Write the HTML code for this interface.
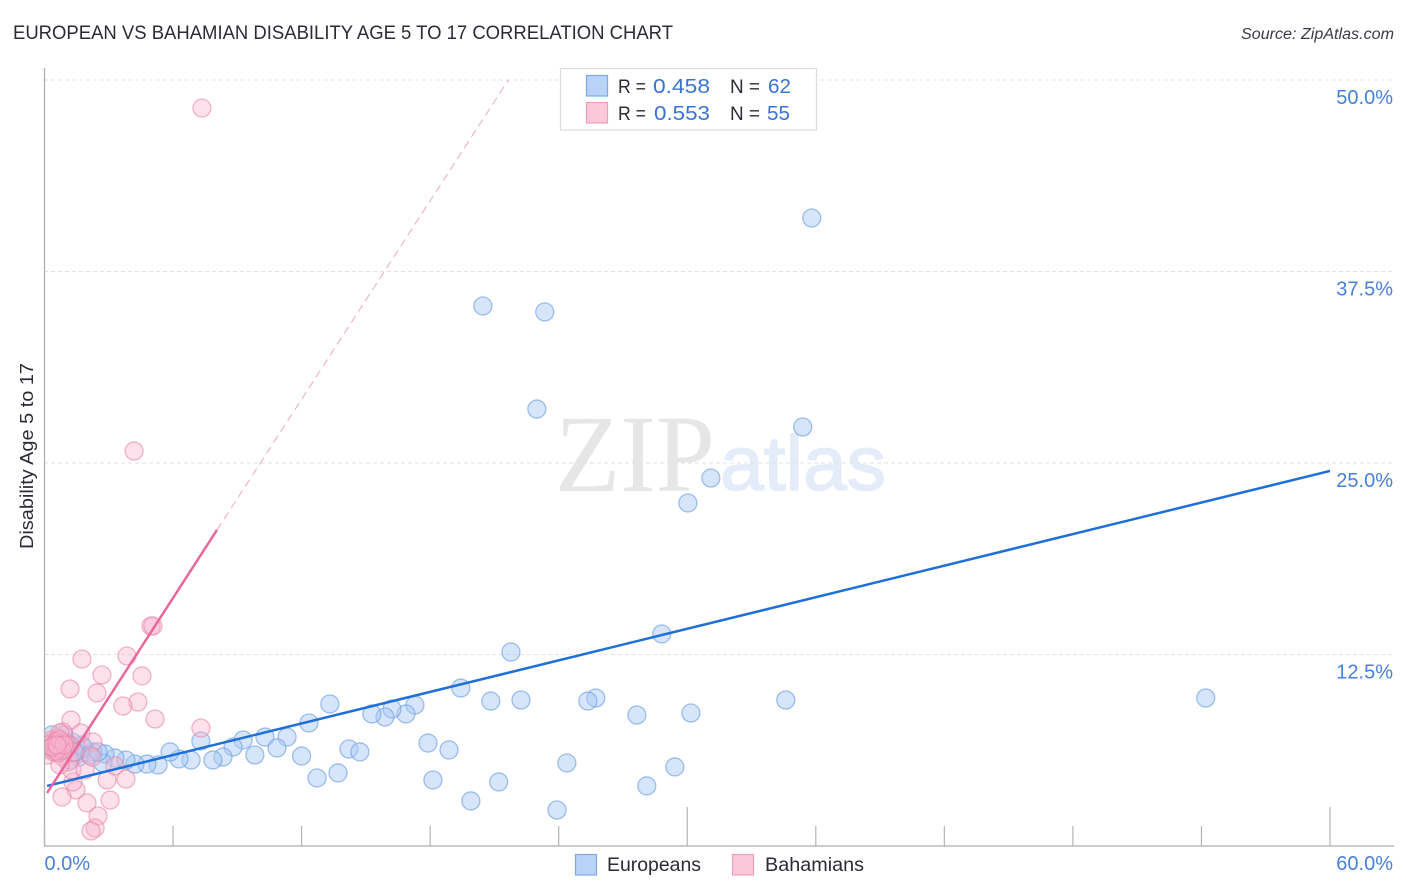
<!DOCTYPE html>
<html lang="en">
<head>
<meta charset="utf-8">
<title>European vs Bahamian Disability Age 5 to 17 Correlation Chart</title>
<style>
html,body{margin:0;padding:0;background:#fff;}
svg{display:block;font-family:"Liberation Sans",sans-serif;}
</style>
</head>
<body>
<svg id="chart" xmlns="http://www.w3.org/2000/svg" width="1406" height="892" viewBox="0 0 1406 892">
  <defs>
    <clipPath id="plot-clip"><rect x="45" y="60" width="1350" height="786"/></clipPath>
  </defs>
  <text x="13" y="39" font-size="19" fill="#2b2b33" textLength="660" lengthAdjust="spacingAndGlyphs">EUROPEAN VS BAHAMIAN DISABILITY AGE 5 TO 17 CORRELATION CHART</text>
  <text x="1394" y="39" font-size="15.5" font-style="italic" fill="#3a3a42" text-anchor="end" textLength="153" lengthAdjust="spacingAndGlyphs">Source: ZipAtlas.com</text>
  <g>
    <text x="555" y="491" font-family="'Liberation Serif',serif" font-size="110" fill="#e6e6e6" textLength="160" lengthAdjust="spacingAndGlyphs">ZIP</text>
    <text x="720" y="490" font-size="77" fill="#e4ecf9" stroke="#e4ecf9" stroke-width="1.5" textLength="166" lengthAdjust="spacingAndGlyphs">atlas</text>
  </g>
  <g id="grid"></g>
  <g clip-path="url(#plot-clip)">
    <g id="points-eu"></g>
    <g id="points-ba"></g>
  </g>
  <g id="trends"></g>
  <g id="axes"></g>
  <text transform="translate(33 456) rotate(-90)" font-size="18.5" fill="#2b2b33" text-anchor="middle" textLength="186" lengthAdjust="spacingAndGlyphs">Disability Age 5 to 17</text>
  <g>
    <rect x="560.5" y="68.5" width="256" height="61.5" fill="#fff" stroke="#dcdcdc" stroke-width="1.2"/>
    <rect x="586.5" y="75.5" width="21" height="20.5" fill="#b9d3f8" stroke="#7fa9e6" stroke-width="1.2"/>
    <rect x="586.5" y="102.5" width="21" height="20.5" fill="#fbc7d9" stroke="#f0a0bc" stroke-width="1.2"/>
    <text x="618" y="93" font-size="19" fill="#2b2b33" textLength="28" lengthAdjust="spacingAndGlyphs">R =</text>
    <text x="653" y="93" font-size="20.5" fill="#3b74d0" textLength="57" lengthAdjust="spacingAndGlyphs">0.458</text>
    <text x="730" y="93" font-size="19" fill="#2b2b33" textLength="30" lengthAdjust="spacingAndGlyphs">N =</text>
    <text x="768" y="93" font-size="20.5" fill="#3b74d0" textLength="23" lengthAdjust="spacingAndGlyphs">62</text>
    <text x="618" y="120" font-size="19" fill="#2b2b33" textLength="28" lengthAdjust="spacingAndGlyphs">R =</text>
    <text x="654" y="120" font-size="20.5" fill="#3b74d0" textLength="56" lengthAdjust="spacingAndGlyphs">0.553</text>
    <text x="730" y="120" font-size="19" fill="#2b2b33" textLength="30" lengthAdjust="spacingAndGlyphs">N =</text>
    <text x="767" y="120" font-size="20.5" fill="#3b74d0" textLength="23" lengthAdjust="spacingAndGlyphs">55</text>
  </g>
  <g>
    <rect x="575.5" y="854.5" width="21" height="20.5" fill="#b9d3f8" stroke="#7fa9e6" stroke-width="1.2"/>
    <text x="607" y="871" font-size="19.5" fill="#2b2b33" textLength="94" lengthAdjust="spacingAndGlyphs">Europeans</text>
    <rect x="732.5" y="854.5" width="21" height="20.5" fill="#fbc7d9" stroke="#f0a0bc" stroke-width="1.2"/>
    <text x="765" y="871" font-size="19.5" fill="#2b2b33" textLength="99" lengthAdjust="spacingAndGlyphs">Bahamians</text>
  </g>
</svg>
<script>
const yTickValues = [12.5, 25, 37.5, 50];
const yTickLabels = ["12.5%", "25.0%", "37.5%", "50.0%"];
const xTickValues = [0, 6, 12, 18, 24, 30, 36, 42, 48, 54, 60];
const xMajorTicks = [30, 60];
const xEndValues = [0, 60];
const xEndLabels = ["0.0%", "60.0%"];

const europeansX = [35.81,20.46,23.35,22.98,35.39,31.10,30.03,28.81,21.77,54.2,34.6,25.73,25.36,22.24,20.83,19.43,17.29,16.87,16.22,15.89,15.28,13.32,12.34,27.65,30.17,17.9,18.88,14.21,14.72,11.32,10.29,9.27,8.8,7.3,10.85,12,9.82,8.33,7.86,6.84,6.28,5.86,5.3,4.78,4.22,3.8,3.29,2.82,2.73,2.26,1.75,1.61,1.28,0.91,0.35,0.72,24.38,29.42,28.11,23.92,19.9,21.2,18.13,13.7,12.72,0.54,0.82,1.1,1.47,1.84,2.12,2.5,0.35,1.19];
const europeansY = [40.99,35.25,34.86,28.52,27.35,24.02,22.39,13.84,12.66,9.66,9.53,9.66,9.46,9.53,9.46,10.31,9.2,8.62,8.94,8.42,8.62,9.27,8.03,8.55,8.68,6.72,6.27,6.33,6.14,7.11,7.11,6.92,6.46,6.85,6.4,5.87,5.94,5.81,5.61,5.61,5.68,6.14,5.29,5.35,5.35,5.61,5.74,6.0,5.42,6.14,6.59,5.81,6.79,7.25,7.25,6.27,5.42,5.16,3.92,2.35,2.94,4.18,4.31,4.77,4.44,6.79,6.46,6.59,6.14,6.4,5.94,6.14,6.4,5.61];

const bahamiansX = [7.35,4.18,4.97,5.06,1.75,3.85,2.68,4.55,1.19,2.45,4.36,3.66,5.16,1.24,7.3,1.70,2.26,0.86,1.47,0.82,1.98,2.5,3.06,2.92,3.8,1.33,2.36,2.17,0.49,0.26,0.63,0.82,0.16,0.44,1.0,0.72,1.19,0.35,0.58,0.86,1.1,1.38,1.28,1.89,2.22,0.72,3.29,0.3,0.55,0.95,0.2,0.65,0.44,0.54,0.63,0.72,0.82,0.54,0.35,0.72,0.91,0.58];
const bahamiansY = [48.17,25.78,14.36,14.36,12.2,12.4,11.16,11.1,10.25,9.99,9.4,9.14,8.29,8.22,7.7,7.38,6.79,7.44,3.66,3.2,2.81,1.96,3.0,4.31,4.37,4.18,1.17,0.98,6.59,6.27,7.05,6.79,5.94,6.14,6.4,7.38,6.59,6.79,6.27,5.81,5.48,6.14,4.96,4.96,5.81,5.29,5.22,6.9,6.5,6.7,6.6,6.1,6.59,6.79,6.4,6.59,6.27,6.2,6.46,6.92,6.59,6.59];

const europeansTrendX = [0.12, 60];
const europeansTrendY = [3.92, 24.48];
const bahamiansTrendX = [0.12, 8.05];
const bahamiansTrendY = [3.46, 20.63];
const bahamiansExtensionX = [8.05, 21.65];
const bahamiansExtensionY = [20.63, 50];

const SVG_NS = "http://www.w3.org/2000/svg";
function xScale(v) { return 44.5 + v * (1330 - 44.5) / 60; }
function yScale(v) { return 846 - v * (846 - 80) / 50; }
function make(parent, tag, attrs, text) {
  const el = document.createElementNS(SVG_NS, tag);
  Object.keys(attrs).forEach(function (k) { el.setAttribute(k, attrs[k]); });
  if (text !== undefined) el.textContent = text;
  document.getElementById(parent).appendChild(el);
  return el;
}

yTickValues.forEach(function (v, i) {
  const line = make("grid", "line", {x1: 44, x2: 1394, y1: yScale(v), y2: yScale(v), stroke: "#e2e2e2", "stroke-width": 1, "stroke-dasharray": "4 3"});
  
  
  const label = make("axes", "text", {x: 1393, y: yScale(v) + 24, "font-size": 20, fill: "#4a80d6", "text-anchor": "end"}, yTickLabels[i]);
  
  
});

europeansX.forEach(function (v, i) {
  const c = make("points-eu", "circle", {cx: xScale(v), cy: yScale(europeansY[i]), r: 9, fill: "#a9c9f5", "fill-opacity": 0.48, stroke: "#6f9fe2", "stroke-opacity": 0.65, "stroke-width": 1.3});
  
  
});
bahamiansX.forEach(function (v, i) {
  const c = make("points-ba", "circle", {cx: xScale(v), cy: yScale(bahamiansY[i]), r: 9, fill: "#f8b4cc", "fill-opacity": 0.42, stroke: "#e984a8", "stroke-opacity": 0.6, "stroke-width": 1.3});
  
  
});

const extension = make("trends", "line", {x1: xScale(bahamiansExtensionX[0]), y1: yScale(bahamiansExtensionY[0]), x2: xScale(bahamiansExtensionX[1]), y2: yScale(bahamiansExtensionY[1]), stroke: "#f0a6c0", "stroke-width": 1, "stroke-dasharray": "8 5"});


const blueTrend = make("trends", "line", {x1: xScale(europeansTrendX[0]), y1: yScale(europeansTrendY[0]), x2: xScale(europeansTrendX[1]), y2: yScale(europeansTrendY[1]), stroke: "#1f6fd8", "stroke-width": 2.5});


const pinkTrend = make("trends", "line", {x1: xScale(bahamiansTrendX[0]), y1: yScale(bahamiansTrendY[0]), x2: xScale(bahamiansTrendX[1]), y2: yScale(bahamiansTrendY[1]), stroke: "#e8689a", "stroke-width": 2.5});



const yAxis = make("axes", "line", {x1: 44.5, x2: 44.5, y1: 68, y2: 846, stroke: "#aeaeae", "stroke-width": 1.3});


const xAxis = make("axes", "line", {x1: 44, x2: 1394, y1: 846, y2: 846, stroke: "#aeaeae", "stroke-width": 1.3});


xTickValues.forEach(function (v) {
  const top = xMajorTicks.indexOf(v) >= 0 ? 807 : 826;
  const t = make("axes", "line", {x1: xScale(v), x2: xScale(v), y1: top, y2: 846, stroke: "#b4b4b4", "stroke-width": 1.2});
  
  
});
xEndValues.forEach(function (v, i) {
  const anchor = i === 0 ? "start" : "end";
  const px = i === 0 ? xScale(v) : 1393;
  const label = make("axes", "text", {x: px, y: 870, "font-size": 20, fill: "#4a80d6", "text-anchor": anchor}, xEndLabels[i]);
  
  
});
</script>
</body>
</html>
